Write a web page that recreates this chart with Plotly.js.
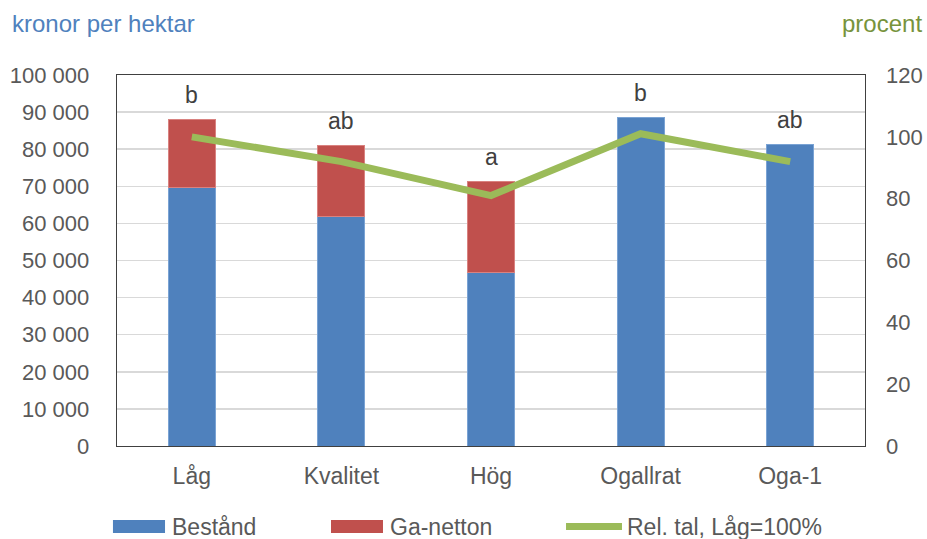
<!DOCTYPE html>
<html>
<head>
<meta charset="utf-8">
<script src="https://cdn.plot.ly/plotly-3.0.1.min.js"></script>
<style>
  html, body { margin: 0; padding: 0; background: #fff; }
  #chart { width: 927px; height: 539px; }
</style>
</head>
<body>
<div id="chart"></div>
<script>
// Gallringsvarianter: värde per hektar och relativt tal
const categories = ['Låg', 'Kvalitet', 'Hög', 'Ogallrat', 'Oga-1'];
const bestand = [69700, 61800, 46900, 88600, 81300];   // kr/ha
const gaNetton = [18400, 19200, 24400, null, null];    // kr/ha
const relTal = [100, 92, 81, 101, 92];                 // procent, Låg = 100
const letters = ['b', 'ab', 'a', 'b', 'ab'];
const seriesNames = ['Bestånd', 'Ga-netton', 'Rel. tal, Låg=100%'];

const leftTicks = [0, 10000, 20000, 30000, 40000, 50000, 60000, 70000, 80000, 90000, 100000];
const rightTicks = [0, 20, 40, 60, 80, 100, 120];

const BLUE = '#4f81bd', RED = '#c0504d', GREEN = '#9bbb59';
const TXT = '#595959';
const FONT = 'Liberation Sans, Arial, sans-serif';

const totals = bestand.map((v, i) => v + (gaNetton[i] || 0));

const traces = [
  {
    type: 'bar', x: categories, y: bestand, name: seriesNames[0],
    marker: { color: BLUE, line: { color: '#7aa3d4', width: 1 } },
    hoverinfo: 'x+y'
  },
  {
    type: 'bar', x: categories, y: gaNetton, name: seriesNames[1],
    marker: { color: RED, line: { color: '#d98280', width: 1 } },
    hoverinfo: 'x+y'
  },
  {
    type: 'scatter', mode: 'lines', x: categories, y: relTal, yaxis: 'y2',
    name: seriesNames[2],
    line: { color: GREEN, width: 7 }
  }
];

// significance letters above each bar
const annotations = categories.map((c, i) => ({
  x: c, y: totals[i], xref: 'x', yref: 'y',
  text: letters[i], showarrow: false,
  yanchor: 'bottom', yshift: 9,
  font: { family: FONT, size: 23, color: '#404040' }
}));

// axis unit labels
annotations.push(
  { xref: 'paper', yref: 'paper', x: -0.143, y: 1.138, xanchor: 'left', yanchor: 'middle',
    text: 'kronor per hektar', showarrow: false,
    font: { family: FONT, size: 24, color: BLUE } },
  { xref: 'paper', yref: 'paper', x: 1.079, y: 1.138, xanchor: 'right', yanchor: 'middle',
    text: 'procent', showarrow: false,
    font: { family: FONT, size: 24, color: '#77933c' } }
);

// legend row below the plot: swatches as shapes, names as annotations
const legendTextX = [0.0722, 0.3636, 0.6805];
const legendY = -0.2183;
seriesNames.forEach((n, i) => {
  annotations.push({
    xref: 'paper', yref: 'paper', x: legendTextX[i], y: legendY,
    xanchor: 'left', yanchor: 'middle', text: n, showarrow: false, borderpad: 0,
    font: { family: FONT, size: 23, color: TXT }
  });
});
const shapes = [
  { type: 'rect', xref: 'paper', yref: 'paper', x0: -0.0054, x1: 0.0642, y0: -0.1994, y1: -0.2345,
    fillcolor: BLUE, line: { width: 0 } },
  { type: 'rect', xref: 'paper', yref: 'paper', x0: 0.2861, x1: 0.3556, y0: -0.1994, y1: -0.2345,
    fillcolor: RED, line: { width: 0 } },
  { type: 'line', xref: 'paper', yref: 'paper', x0: 0.6003, x1: 0.6751, y0: -0.2170, y1: -0.2170,
    line: { color: GREEN, width: 7 } }
];

const layout = {
  width: 927, height: 539,
  margin: { l: 117, r: 62, t: 75, b: 93, pad: 0, autoexpand: false },
  paper_bgcolor: '#fff', plot_bgcolor: '#fff',
  barmode: 'stack', bargap: 0.685,
  separators: ', ',
  font: { family: FONT, color: TXT, size: 22 },
  showlegend: false,
  xaxis: {
    type: 'category', categoryarray: categories,
    showline: true, linecolor: '#404040', linewidth: 1.3, mirror: true,
    ticks: '', ticklabelstandoff: 9,
    tickfont: { family: FONT, size: 23, color: TXT },
    showgrid: false, zeroline: false, fixedrange: true
  },
  yaxis: {
    range: [0, 100000], tickvals: leftTicks, tickformat: ',d',
    showline: true, linecolor: '#404040', linewidth: 1.3, mirror: true,
    gridcolor: '#d9d9d9', gridwidth: 1.5, zeroline: false,
    ticks: '', ticklabelstandoff: 22,
    tickfont: { family: FONT, size: 22, color: TXT }, fixedrange: true
  },
  yaxis2: {
    overlaying: 'y', side: 'right', range: [0, 120], tickvals: rightTicks,
    showgrid: false, zeroline: false, showline: false,
    ticks: '', ticklabelstandoff: 20,
    tickfont: { family: FONT, size: 22, color: TXT }, fixedrange: true
  },
  shapes: shapes,
  annotations: annotations
};

Plotly.newPlot('chart', traces, layout, { displayModeBar: false, staticPlot: true });
</script>
</body>
</html>
